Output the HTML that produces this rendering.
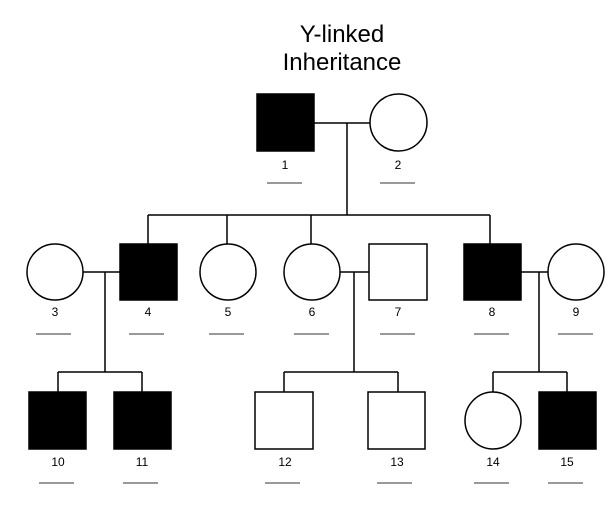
<!DOCTYPE html>
<html><head><meta charset="utf-8"><style>
html,body{margin:0;padding:0;background:#fff;}
svg{display:block;}
text{font-family:"Liberation Sans",Arial,sans-serif;fill:#000;}
</style></head><body>
<svg width="611" height="508" viewBox="0 0 611 508" xmlns="http://www.w3.org/2000/svg">
<g font-size="24" text-anchor="middle">
<text x="342" y="42">Y-linked</text>
<text x="342" y="70">Inheritance</text>
</g>
<g stroke="#000" stroke-width="1.5" fill="none">
<!-- gen1 -->
<line x1="314" y1="123" x2="370" y2="123"/>
<line x1="347" y1="123" x2="347" y2="215"/>
<line x1="148" y1="215" x2="490" y2="215"/>
<line x1="148" y1="215" x2="148" y2="244"/>
<line x1="227" y1="215" x2="227" y2="244"/>
<line x1="311" y1="215" x2="311" y2="244"/>
<line x1="490" y1="215" x2="490" y2="244"/>
<!-- gen2 couples -->
<line x1="83" y1="272" x2="120" y2="272"/>
<line x1="105" y1="272" x2="105" y2="372"/>
<line x1="58" y1="372" x2="142" y2="372"/>
<line x1="58" y1="372" x2="58" y2="392"/>
<line x1="142" y1="372" x2="142" y2="392"/>
<line x1="340" y1="272" x2="369" y2="272"/>
<line x1="354" y1="272" x2="354" y2="372"/>
<line x1="284" y1="372" x2="398" y2="372"/>
<line x1="284" y1="372" x2="284" y2="392"/>
<line x1="398" y1="372" x2="398" y2="392"/>
<line x1="521" y1="272" x2="548" y2="272"/>
<line x1="539" y1="272" x2="539" y2="372"/>
<line x1="493" y1="372" x2="567" y2="372"/>
<line x1="493" y1="372" x2="493" y2="392"/>
<line x1="567" y1="372" x2="567" y2="392"/>
<!-- shapes -->
<rect x="257" y="94" width="57" height="57" fill="#000"/>
<ellipse cx="398.5" cy="122.5" rx="28.5" ry="28.5" fill="#fff"/>
<ellipse cx="55" cy="272" rx="28" ry="28" fill="#fff"/>
<rect x="120" y="244" width="57" height="56" fill="#000"/>
<ellipse cx="228" cy="272" rx="28" ry="28" fill="#fff"/>
<ellipse cx="312" cy="272" rx="28" ry="28" fill="#fff"/>
<rect x="369" y="244" width="58" height="56" fill="#fff"/>
<rect x="464" y="244" width="57" height="56" fill="#000"/>
<ellipse cx="576" cy="272" rx="28" ry="28" fill="#fff"/>
<rect x="29" y="392" width="57" height="57" fill="#000"/>
<rect x="114" y="392" width="57" height="57" fill="#000"/>
<rect x="255" y="392" width="58" height="57" fill="#fff"/>
<rect x="368" y="392" width="57" height="57" fill="#fff"/>
<ellipse cx="493" cy="420.5" rx="28" ry="28.5" fill="#fff"/>
<rect x="539" y="392" width="57" height="57" fill="#000"/>
</g>
<g font-size="12" text-anchor="middle">
<text x="285" y="169">1</text><text x="398" y="169">2</text>
<text x="55" y="316">3</text><text x="148" y="316">4</text><text x="228" y="316">5</text><text x="312" y="316">6</text><text x="398" y="316">7</text><text x="492" y="316">8</text><text x="576" y="316">9</text>
<text x="58" y="466">10</text><text x="142" y="466">11</text><text x="285" y="466">12</text><text x="397" y="466">13</text><text x="493" y="466">14</text><text x="567" y="466">15</text>
</g>
<g stroke="#333" stroke-width="1">
<line x1="267" y1="183" x2="302" y2="183"/><line x1="380" y1="183" x2="415" y2="183"/>
<line x1="36" y1="334" x2="71" y2="334"/><line x1="129" y1="334" x2="164" y2="334"/><line x1="209" y1="334" x2="244" y2="334"/><line x1="294" y1="334" x2="329" y2="334"/><line x1="380" y1="334" x2="415" y2="334"/><line x1="474" y1="334" x2="509" y2="334"/><line x1="558" y1="334" x2="593" y2="334"/>
<line x1="39" y1="483" x2="74" y2="483"/><line x1="123" y1="483" x2="158" y2="483"/><line x1="265" y1="483" x2="300" y2="483"/><line x1="377" y1="483" x2="412" y2="483"/><line x1="474" y1="483" x2="509" y2="483"/><line x1="548" y1="483" x2="583" y2="483"/>
</g>
</svg>
</body></html>
